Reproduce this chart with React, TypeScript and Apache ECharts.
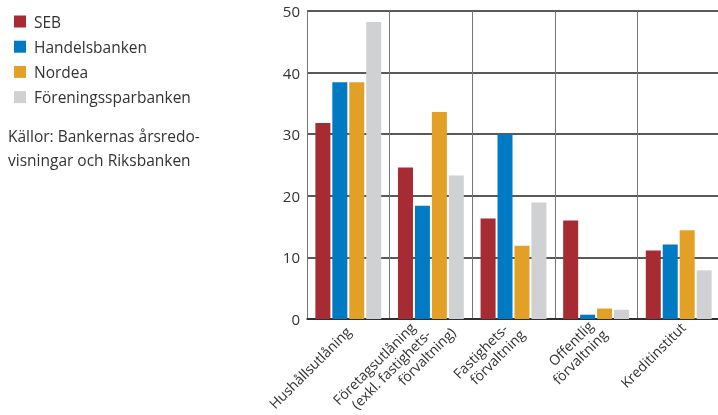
import React, { useEffect, useRef } from "react";
import * as echarts from "echarts";

const categories = [
  "Hushållsutlåning",
  "Företagsutlåning\n(exkl. fastighets-\nförvaltning)",
  "Fastighets-\nförvaltning",
  "Offentlig\nförvaltning",
  "Kreditinstitut",
];
const seb = [31.8, 24.6, 16.3, 16.0, 11.1];
const handelsbanken = [38.45, 18.4, 30.0, 0.7, 12.1];
const nordea = [38.45, 33.6, 11.9, 1.7, 14.4];
const foreningssparbanken = [48.2, 23.3, 18.9, 1.5, 7.9];
const yTicks = [0, 10, 20, 30, 40, 50];
const sourceLines = ["Källor: Bankernas årsredo-", "visningar och Riksbanken"];

const FONT = "'Open Sans', sans-serif";
// layout: right padding per label line (staggered line ends as in the reference)
const LINE_PADS: number[][] = [[0], [10, 4, -15], [4, -4], [0, -4], [-6]];

export default function App() {
  const ref = useRef<HTMLDivElement>(null);
  useEffect(() => {
    const chart = echarts.init(ref.current!, null, { renderer: "svg" });
    const mk = (name: string, data: number[], color: string) => ({
      name,
      type: "bar",
      data,
      barWidth: 15,
      barGap: "13%",
      itemStyle: { color },
    });
    const rich: Record<string, any> = {};
    LINE_PADS.forEach((pads, c) => {
      pads.forEach((p, i) => {
        rich[`c${c}l${i}`] = {
          fontSize: 14,
          lineHeight: 16,
          color: "#333",
          fontFamily: FONT,
          padding: [0, p, 0, 0],
        };
      });
    });
    chart.setOption({
      animation: false,
      textStyle: { fontFamily: FONT },
      legend: {
        orient: "vertical",
        left: 9,
        top: 8,
        itemWidth: 12,
        itemHeight: 12,
        itemGap: 8.2,
        icon: "rect",
        textStyle: {
          fontSize: 15.5,
          lineHeight: 17,
          color: "#333",
          fontFamily: FONT,
          padding: [0, 0, 0, 3],
        },
        data: ["SEB", "Handelsbanken", "Nordea", "Föreningssparbanken"],
      },
      graphic: sourceLines.map((t, i) => ({
        type: "text",
        left: 8,
        top: 128 + i * 23.5,
        style: { text: t, fontSize: 15.5, fill: "#333", fontFamily: FONT },
      })),
      grid: {
        left: 307,
        top: 11,
        width: 413,
        bottom: 96,
        containLabel: false,
        outerBoundsMode: "none",
      },
      xAxis: {
        type: "category",
        data: categories,
        axisLine: { lineStyle: { color: "#222", width: 1.5 } },
        axisTick: { show: false },
        splitLine: { show: true, lineStyle: { color: "#777", width: 1 } },
        axisLabel: {
          rotate: 45,
          fontSize: 14,
          color: "#333",
          margin: 10,
          lineHeight: 16,
          fontFamily: FONT,
          formatter: (v: string, idx: number) => {
            const lines = v.split("\n");
            return lines.map((l, i) => `{c${idx}l${i}|${l}}`).join("\n");
          },
          rich,
        },
      },
      yAxis: {
        type: "value",
        min: 0,
        max: 50,
        interval: 10,
        axisLine: { show: true, lineStyle: { color: "#777", width: 1 } },
        axisTick: { show: false },
        splitLine: { lineStyle: { color: "#222", width: 1.5 } },
        axisLabel: {
          fontSize: 15,
          color: "#333",
          margin: 7,
          fontFamily: FONT,
          formatter: (v: number) => (yTicks.includes(v) ? String(v) : ""),
        },
      },
      series: [
        mk("SEB", seb, "#a62b33"),
        mk("Handelsbanken", handelsbanken, "#007ac3"),
        mk("Nordea", nordea, "#e3a027"),
        mk("Föreningssparbanken", foreningssparbanken, "#d0d1d3"),
      ],
    });
    return () => chart.dispose();
  }, []);
  return (
    <div
      ref={ref}
      style={{ position: "fixed", left: 0, top: 0, width: 718, height: 415 }}
    />
  );
}
